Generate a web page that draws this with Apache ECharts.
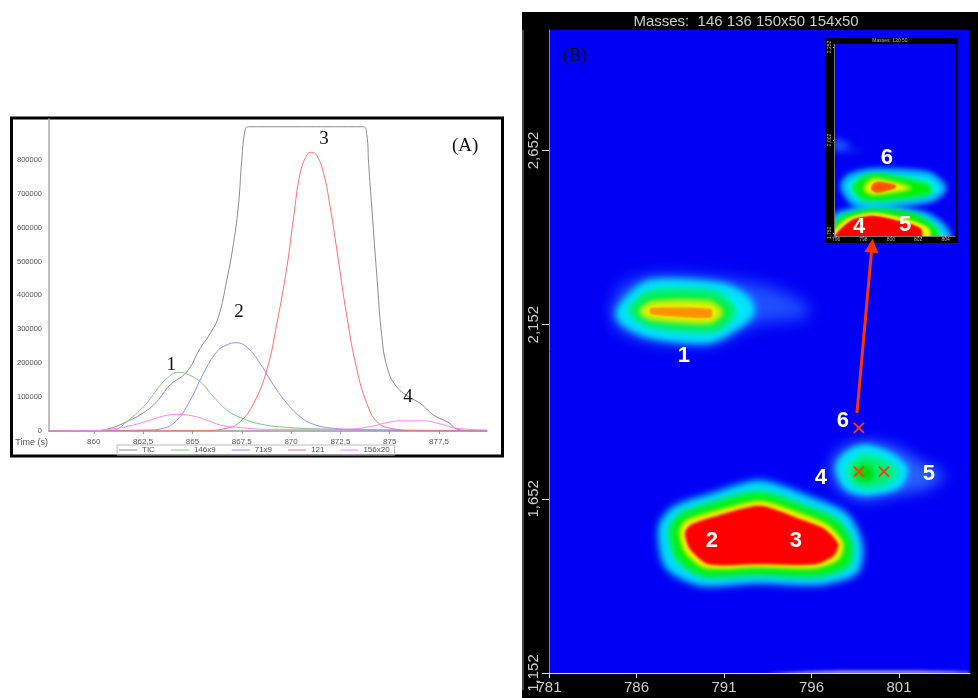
<!DOCTYPE html>
<html>
<head>
<meta charset="utf-8">
<title>GCxGC peaks</title>
<script src="https://cdn.jsdelivr.net/npm/echarts@6/dist/echarts.min.js"></script>
<style>
html, body { margin: 0; padding: 0; background: #fff; }
#main { width: 978px; height: 698px; }
</style>
</head>
<body>
<div id="main"></div>
<script>
// panel A, chromatogram traces as [time (s), intensity]
var ticTrace = [[857.79,0],[860,800],[860.83,7900],[861.67,27500],[862.52,54000],[863.19,86500],[863.87,135700],[864.72,175000],[865.39,243800],[865.9,288000],[866.32,337000],[866.74,445000],[867.08,553000],[867.34,671000],[867.5,799000],[867.67,888000],[867.84,897500],[873.67,897500],[873.84,873000],[873.93,789000],[874.1,652000],[874.35,455000],[874.6,278000],[874.86,190000],[875.28,135700],[875.96,101000],[876.55,81600],[877.22,47000],[877.9,27500],[878.58,3000],[879.93,0]];
var trace146 = [[857.79,0],[860,500],[861,3000],[861.67,27500],[862.52,71800],[863.19,121000],[863.7,155000],[864.29,173000],[864.72,168000],[865.39,145500],[866.07,101000],[866.74,62000],[867.42,40000],[868.43,20600],[869.79,10800],[872.15,5000],[875.53,3000],[879.93,0]];
var trace71 = [[857.79,0],[862.69,3000],[863.53,8000],[864.21,32000],[864.89,91000],[865.56,170000],[866.24,234000],[866.74,254000],[867.22,260500],[867.76,247000],[868.43,199000],[869.11,135700],[869.79,81600],[870.46,42000],[871.14,19700],[872.15,8000],[873.84,3000],[879.93,0]];
var trace121 = [[857.79,0],[865.39,1000],[866.74,8000],[867.42,27500],[868.1,81600],[868.77,180000],[869.28,317500],[869.79,484700],[870.13,632000],[870.46,760000],[870.8,814000],[871.05,822000],[871.31,812000],[871.65,760000],[871.98,661000],[872.32,534000],[872.83,337000],[873.34,180000],[873.84,81600],[874.35,27500],[875.03,8000],[876.38,1000],[879.93,0]];
var trace156 = [[857.79,0],[860,1000],[861.17,8000],[862.01,17700],[862.86,32000],[863.53,44000],[864.21,49000],[865.05,44000],[865.73,32000],[866.41,17700],[867.42,10000],[868.77,5000],[871.31,5000],[873,6000],[874.01,13000],[874.86,24600],[875.53,30000],[876.72,30000],[877.56,20600],[878.41,8000],[879.93,3000]];
var timeTicks = [860, 862.5, 865, 867.5, 870, 872.5, 875, 877.5];
var intensityTicks = [0, 100000, 200000, 300000, 400000, 500000, 600000, 700000, 800000];
var labelsA = [['1',863.92,194700],['2',867.36,351000],['3',871.67,861000],['4',875.93,100000],['(A)',878.82,840700]];

// panel B, contours as [1st dimension, 2nd dimension]
var peak1Light = [[784.58,2.192],[785.06,2.259],[786.77,2.293],[790.2,2.288],[793.44,2.264],[795.72,2.211],[795.72,2.173],[792.87,2.154],[790.2,2.097],[786.77,2.106],[785.06,2.135]];
var peak1Cyan = [[785.15,2.192],[786.77,2.264],[790.96,2.255],[792.3,2.216],[792.39,2.183],[790.2,2.116],[786.77,2.13],[785.25,2.168]];
var peak1Green = [[785.72,2.192],[786.77,2.24],[790.39,2.24],[791.53,2.192],[790.49,2.14],[786.77,2.154]];
var peak1Yellow = [[786.3,2.197],[786.96,2.216],[790.2,2.216],[790.87,2.188],[790.2,2.159],[786.96,2.168],[786.3,2.183]];
var peak1Core = [[786.87,2.197],[790.2,2.194],[790.2,2.175],[786.87,2.185]];
var peak23Cyan = [[787.57,1.57],[788.3,1.617],[790.3,1.651],[793.06,1.689],[795.91,1.641],[797.82,1.598],[798.58,1.522],[798.39,1.45],[796.39,1.421],[792.87,1.426],[789.72,1.418],[787.91,1.464]];
var peak23Green = [[788.01,1.565],[788.58,1.603],[790.39,1.635],[793.06,1.665],[795.72,1.622],[797.44,1.584],[798.2,1.522],[798.01,1.464],[796.39,1.436],[792.87,1.44],[789.82,1.436],[788.39,1.483]];
var peak23Yellow = [[788.45,1.56],[788.87,1.591],[790.49,1.617],[793.06,1.646],[795.53,1.608],[796.96,1.577],[797.82,1.526],[797.59,1.479],[796.3,1.453],[792.87,1.455],[789.91,1.453],[788.77,1.498]];
var peak23Red = [[788.77,1.555],[789.15,1.579],[790.58,1.603],[793.06,1.632],[795.34,1.594],[796.77,1.565],[797.53,1.522],[797.25,1.488],[796.2,1.464],[792.87,1.464],[790.1,1.464],[789.06,1.507]];
var peak45Light = [[797.06,1.742],[797.63,1.795],[799.15,1.817],[800.87,1.8],[802.39,1.756],[803.63,1.718],[802.58,1.68],[800.68,1.661],[798.96,1.646],[797.44,1.684]];
var peak45Cyan = [[797.63,1.742],[798.1,1.776],[799,1.795],[800.3,1.776],[801.25,1.737],[800.87,1.694],[799.15,1.675],[798.1,1.689]];
var peak45Spring = [[798.1,1.737],[798.49,1.761],[799,1.776],[799.91,1.766],[800.87,1.732],[800.39,1.699],[799.15,1.684],[798.39,1.699]];
var peak45Green = [[798.58,1.737],[799,1.752],[799.53,1.732],[799.44,1.708],[798.87,1.704],[798.49,1.718]];
var bottomStreak = [[793.5,1.152],[797,1.158],[803,1.158],[805,1.155],[805,1.152]];
var firstDimTicks = [781, 786, 791, 796, 801];
var secondDimTicks = [1.152, 1.652, 2.152, 2.652];
var labelsB = [['1',788.71,2.063],['2',790.31,1.531],['3',795.11,1.531],['4',796.54,1.712],['5',802.71,1.724],['6',797.8,1.876]];
var crossMarks = [[798.71,1.856],[798.71,1.73],[800.14,1.73]];
var arrowFrom = [798.6, 1.899];
var arrowTo = [799.46, 2.379];

// inset of panel B
var inset6Cyan = [[796.54,1.877],[797.02,1.903],[798.61,1.917],[802.74,1.908],[803.84,1.872],[802.99,1.845],[799.34,1.827],[797.39,1.832]];
var inset6Green = [[797.27,1.877],[798.12,1.903],[799.34,1.908],[802.74,1.881],[802.86,1.859],[799.34,1.841],[797.88,1.845]];
var inset6Yellow = [[798.12,1.881],[798.85,1.899],[801.53,1.872],[798.85,1.854],[798.12,1.863]];
var inset6Core = [[798.73,1.881],[799.09,1.887],[800.31,1.877],[799.09,1.863],[798.66,1.869]];
var inset45Cyan = [[795.3,1.76],[796.17,1.8],[798.85,1.818],[802.5,1.8],[803.96,1.76],[804.2,1.7],[795.3,1.7]];
var inset45Green = [[795.5,1.753],[796.54,1.796],[798.85,1.814],[801.77,1.8],[803.35,1.76],[803.3,1.7],[795.5,1.7]];
var inset45Yellow = [[795.7,1.749],[796.78,1.791],[798.85,1.807],[801.77,1.783],[802.86,1.76],[802.5,1.7],[795.7,1.7]];
var inset45Red = [[795.93,1.744],[797.15,1.787],[798.85,1.798],[801.28,1.778],[802.26,1.76],[801.9,1.7],[795.93,1.7]];
var insetStreak = [[795.86,2.006],[796.9,1.995],[797.15,1.989],[796.5,1.98],[798.12,1.973],[796.5,1.97],[795.86,1.975]];
var insetXTicks = [796, 798, 800, 802, 804];
var insetYTicks = [1.752, 2.002, 2.252];
var labelsInset = [['6',799.71,1.954],['4',797.68,1.768],['5',801.04,1.773]];

var mainRings = [
	{ points: peak1Light, color: '#1f50ff', blur: 16, grow: 0 },
	{ points: peak1Cyan, color: '#00f0ff', blur: 9, grow: 5 },
	{ points: peak1Green, color: '#00f040', blur: 7, grow: 2 },
	{ points: peak1Yellow, color: '#e8f000', blur: 5, grow: 1 },
	{ points: peak1Core, color: '#ff9000', blur: 2, grow: 1 },
	{ points: peak23Cyan, color: '#00f0ff', blur: 8, grow: 5 },
	{ points: peak23Green, color: '#00f000', blur: 6, grow: 2 },
	{ points: peak23Yellow, color: '#f8f000', blur: 4, grow: 0 },
	{ points: peak23Red, color: '#ff0000', blur: 3, grow: 0 },
	{ points: peak45Light, color: '#2a60ff', blur: 14, grow: 0 },
	{ points: peak45Cyan, color: '#00f0ff', blur: 7, grow: 4 },
	{ points: peak45Spring, color: '#00f070', blur: 6, grow: 1 },
	{ points: peak45Green, color: '#00d800', blur: 6, grow: 0 },
	{ points: bottomStreak, color: '#c0c8ff', blur: 3, grow: 0 }
];
var insetRings = [
	{ points: insetStreak, color: '#1f50ff', blur: 6, grow: 0 },
	{ points: inset6Cyan, color: '#00f0ff', blur: 6, grow: 2 },
	{ points: inset6Green, color: '#00f000', blur: 5, grow: 1 },
	{ points: inset6Yellow, color: '#f8f000', blur: 4, grow: 0 },
	{ points: inset6Core, color: '#ff5000', blur: 2, grow: 1 },
	{ points: inset45Cyan, color: '#00f0ff', blur: 6, grow: 2 },
	{ points: inset45Green, color: '#00f000', blur: 4, grow: 1 },
	{ points: inset45Yellow, color: '#f8f000', blur: 3, grow: 0 },
	{ points: inset45Red, color: '#ff0000', blur: 2, grow: 0 }
];

// the polygon itself is pushed off the canvas, only its blurred shadow lands on the plot
var shadowShift = 3000;

function ringSeries(rings, axisIndex, z) {
	return {
		type: 'custom',
		xAxisIndex: axisIndex,
		yAxisIndex: axisIndex,
		z: z,
		silent: true,
		clip: true,
		encode: { x: 0, y: 1 },
		data: rings.map(function(r) { return r.points[0]; }),
		renderItem: function(params, api) {
			var ring = rings[params.dataIndex];
			return {
				type: 'polygon',
				shape: {
					points: ring.points.map(function(p) {
						var c = api.coord(p);
						return [c[0] - shadowShift, c[1]];
					}),
					smooth: 0.25
				},
				style: {
					fill: ring.color,
					stroke: ring.grow ? ring.color : null,
					lineWidth: ring.grow * 2,
					lineJoin: 'round',
					shadowBlur: ring.blur,
					shadowColor: ring.color,
					shadowOffsetX: shadowShift
				}
			};
		}
	};
}

function textSeries(rows, axisIndex, z, labelStyle) {
	return {
		type: 'scatter',
		xAxisIndex: axisIndex,
		yAxisIndex: axisIndex,
		z: z,
		silent: true,
		symbolSize: 1,
		itemStyle: { color: 'transparent', opacity: 1 },
		label: Object.assign({ show: true, position: 'inside', formatter: '{b}' }, labelStyle),
		data: rows.map(function(r) { return { name: r[0], value: [r[1], r[2]] }; })
	};
}

function traceSeries(name, data, color) {
	return {
		name: name,
		type: 'line',
		xAxisIndex: 0,
		yAxisIndex: 0,
		data: data,
		smooth: 0.45,
		symbol: 'none',
		silent: true,
		lineStyle: { color: color, width: 1 },
		itemStyle: { color: color }
	};
}

function commaNumber(digits) {
	return function(v) {
		var s = digits === undefined ? String(v) : v.toFixed(digits);
		return s.replace('.', ',');
	};
}

var sans = 'Liberation Sans';
var serif = 'Liberation Serif';

var chart = echarts.init(document.getElementById('main'));
var option = {
	animation: false,
	backgroundColor: '#fff',
	grid: [
		{ left: 49, top: 119, width: 438, height: 312 },
		{ left: 549, top: 30, width: 421, height: 643, show: true, backgroundColor: '#0000f4', borderWidth: 0, z: 1 },
		{ left: 834, top: 44, width: 121, height: 192, show: true, backgroundColor: '#0000f4', borderWidth: 0, z: 4 }
	],
	legend: {
		left: 117,
		top: 445,
		padding: [1, 5, 1, 2],
		itemGap: 16,
		itemWidth: 18,
		itemHeight: 1,
		icon: 'rect',
		borderColor: '#bbb',
		borderWidth: 1,
		data: ['TIC', '146x9', '71x9', '121', '156x20'],
		formatter: '{a|{name}}',
		textStyle: { rich: { a: { fontSize: 8, color: '#555', fontFamily: sans, width: 22 } } }
	},
	xAxis: [{
		gridIndex: 0,
		type: 'value',
		z: 3,
		min: 857.73,
		max: 879.93,
		name: 'Time (s)',
		nameLocation: 'start',
		nameGap: 1,
		nameTextStyle: { fontSize: 9, color: '#555', fontFamily: sans, verticalAlign: 'top', padding: [7, 0, 0, 0] },
		splitLine: { show: false },
		axisLine: { lineStyle: { color: '#999', width: 1.5 } },
		axisTick: { length: 3, customValues: timeTicks, lineStyle: { color: '#999' } },
		axisLabel: { customValues: timeTicks, fontSize: 8, color: '#555', margin: 7, fontFamily: sans, formatter: commaNumber() }
	}, {
		gridIndex: 1,
		type: 'value',
		z: 3,
		min: 781,
		max: 805.06,
		splitLine: { show: false },
		axisLine: { lineStyle: { color: '#ddd', width: 1 } },
		axisTick: { length: 5, customValues: firstDimTicks, lineStyle: { color: '#ddd' } },
		axisLabel: { customValues: firstDimTicks, fontSize: 15, color: '#ccc', margin: 7, fontFamily: sans }
	}, {
		gridIndex: 2,
		type: 'value',
		z: 5,
		min: 795.85,
		max: 804.69,
		splitLine: { show: false },
		axisLine: { lineStyle: { color: '#777', width: 1 } },
		axisTick: { length: 1, customValues: insetXTicks, lineStyle: { color: '#bbb' } },
		axisLabel: { customValues: insetXTicks, fontSize: 5, color: '#bbb', margin: 1, fontFamily: sans }
	}],
	yAxis: [{
		gridIndex: 0,
		type: 'value',
		z: 3,
		min: 0,
		max: 920400,
		splitLine: { show: false },
		axisLine: { show: true, lineStyle: { color: '#aaa', width: 1.5 } },
		axisTick: { show: false },
		axisLabel: { customValues: intensityTicks, fontSize: 7.5, color: '#555', margin: 7, fontFamily: sans, formatter: function(v) { return String(v); } }
	}, {
		gridIndex: 1,
		type: 'value',
		z: 3,
		min: 1.152,
		max: 2.998,
		splitLine: { show: false },
		axisLine: { show: true, lineStyle: { color: '#888', width: 1 } },
		axisTick: { length: 7, customValues: secondDimTicks, lineStyle: { color: '#ddd' } },
		axisLabel: { customValues: secondDimTicks, rotate: 90, fontSize: 15, color: '#ccc', margin: 8, fontFamily: sans, formatter: commaNumber(3) }
	}, {
		gridIndex: 2,
		type: 'value',
		z: 5,
		min: 1.744,
		max: 2.26,
		splitLine: { show: false },
		axisLine: { show: true, lineStyle: { color: '#777', width: 1 } },
		axisTick: { length: 1, customValues: insetYTicks, lineStyle: { color: '#bbb' } },
		axisLabel: { customValues: insetYTicks, rotate: 90, fontSize: 5, color: '#bbb', margin: 2, fontFamily: sans, formatter: commaNumber(3) }
	}],
	graphic: [
		{ type: 'rect', z: 0, shape: { x: 11.5, y: 118, width: 491, height: 338 }, style: { fill: '#fff', stroke: '#000', lineWidth: 3 } },
		{ type: 'rect', z: 0, shape: { x: 522, y: 12, width: 456, height: 686 }, style: { fill: '#000' } },
		{ type: 'line', z: 1, shape: { x1: 523, y1: 30, x2: 523, y2: 690 }, style: { stroke: '#888', lineWidth: 1 } },
		{ type: 'rect', z: 3, shape: { x: 825, y: 38, width: 133, height: 205 }, style: { fill: '#000' } },
		{ type: 'text', z: 3, style: { x: 746, y: 22, text: 'Masses:  146 136 150x50 154x50', fill: '#ccc', font: '15px ' + sans, textAlign: 'center', textVerticalAlign: 'middle' } },
		{ type: 'text', z: 5, style: { x: 890, y: 40.5, text: 'Masses: 120 50', fill: '#bbb', font: '5px ' + sans, textAlign: 'center', textVerticalAlign: 'middle' } }
	],
	series: [
		traceSeries('TIC', ticTrace, '#8c8c8c'),
		traceSeries('146x9', trace146, '#7ec87e'),
		traceSeries('71x9', trace71, '#8f8fff'),
		traceSeries('121', trace121, '#ff6f6f'),
		traceSeries('156x20', trace156, '#ff80ff'),
		textSeries(labelsA, 0, 6, { fontSize: 19, color: '#111', fontFamily: serif }),
		ringSeries(mainRings, 1, 2),
		{
			type: 'scatter',
			xAxisIndex: 1,
			yAxisIndex: 1,
			z: 6,
			silent: true,
			symbol: 'path://M0 0L10 10M10 0L0 10',
			symbolSize: 10,
			itemStyle: { color: 'none', borderColor: '#ff3a10', borderWidth: 1.8, opacity: 1 },
			data: crossMarks,
			markLine: {
				silent: true,
				symbol: ['none', 'triangle'],
				symbolSize: 14,
				label: { show: false },
				lineStyle: { color: '#ff3300', width: 3, type: 'solid' },
				data: [[{ coord: arrowFrom }, { coord: arrowTo }]]
			}
		},
		textSeries(labelsB, 1, 6, { fontSize: 22, fontWeight: 'bold', color: '#fff', fontFamily: sans }),
		textSeries([['(B)', 782.49, 2.922]], 1, 6, { fontSize: 18, color: '#111', fontFamily: serif }),
		ringSeries(insetRings, 2, 5),
		textSeries(labelsInset, 2, 6, { fontSize: 22, fontWeight: 'bold', color: '#fff', fontFamily: sans })
	]
};

chart.setOption(option);
</script>
</body>
</html>
